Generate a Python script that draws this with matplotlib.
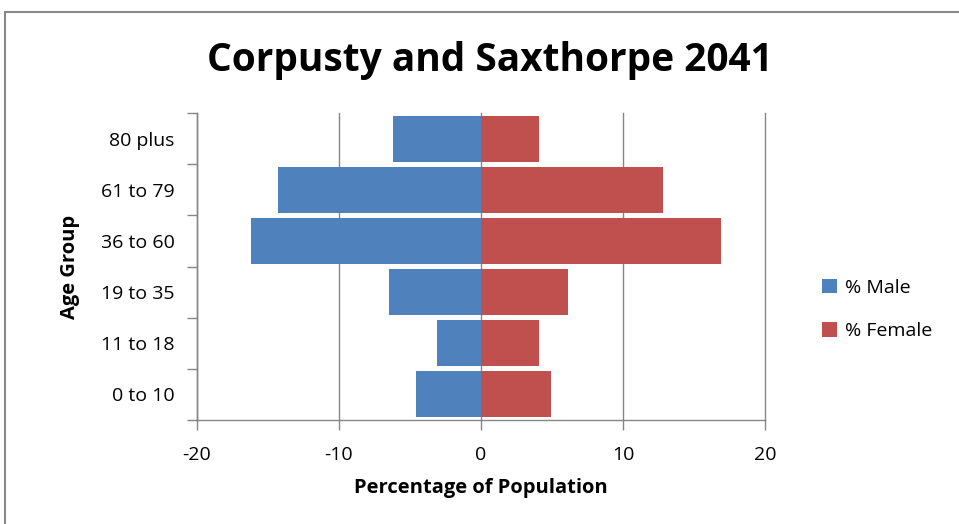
import numpy as np
import matplotlib.pyplot as plt
from matplotlib.patches import Rectangle

# age groups, bottom to top
age_groups = ['0 to 10', '11 to 18', '19 to 35', '36 to 60', '61 to 79', '80 plus']
male_pct = [-4.6, -3.1, -6.5, -16.2, -14.3, -6.2]
female_pct = [4.95, 4.1, 6.1, 16.9, 12.8, 4.1]
x_ticks = [-20, -10, 0, 10, 20]

plt.rcParams['font.family'] = ['Open Sans', 'DejaVu Sans']

fig = plt.figure(figsize=(9.59, 5.24), dpi=100)
ax = fig.add_axes([0.2054, 0.1985, 0.5923, 0.5855])

# chart frame
fig.patches.append(Rectangle((5 / 959, -0.1), 1.1, 1 - 12 / 524 + 0.1,
                             transform=fig.transFigure, fill=False,
                             edgecolor='#898989', linewidth=1.5))

y = np.arange(len(age_groups))
ax.barh(y, male_pct, height=0.9, color='#4F81BD', label='% Male', zorder=3)
ax.barh(y, female_pct, height=0.9, color='#C0504D', label='% Female', zorder=3)

ax.set_xlim(-20, 20)
ax.set_ylim(-0.5, len(age_groups) - 0.5)
ax.set_xticks(x_ticks)
ax.set_xticklabels([str(t) for t in x_ticks], fontsize=14)
ax.xaxis.grid(True, color='#868686', linewidth=1, zorder=0)
for gl in ax.get_xgridlines():
    gl.set_clip_on(False)

# category labels centred, tick marks between categories
ax.set_yticks(y)
ax.set_yticklabels(age_groups, fontsize=14)
ax.tick_params(axis='y', length=0, pad=16)
ax.set_yticks(np.arange(-0.5, len(age_groups)), minor=True)
ax.tick_params(axis='y', which='minor', length=7, color='#868686', width=1)
ax.tick_params(axis='x', length=7, color='#868686', width=1, pad=12)

for s in ['top', 'right']:
    ax.spines[s].set_visible(False)
for s in ['left', 'bottom']:
    ax.spines[s].set_color('#868686')
    ax.spines[s].set_linewidth(1)

ax.set_xlabel('Percentage of Population', fontsize=14.5, fontweight='bold', labelpad=10)
ax.set_ylabel('Age Group', fontsize=14.5, fontweight='bold', labelpad=15)

fig.text(0.511, 0.885, 'Corpusty and Saxthorpe 2041', ha='center', va='center',
         fontsize=28, fontweight='bold')

ax.legend(loc='center left', bbox_to_anchor=(1.07, 0.36), frameon=False,
          fontsize=14, handlelength=0.75, handleheight=0.75, labelspacing=1.3,
          handletextpad=0.4)

fig.savefig('out.png', dpi=100)
